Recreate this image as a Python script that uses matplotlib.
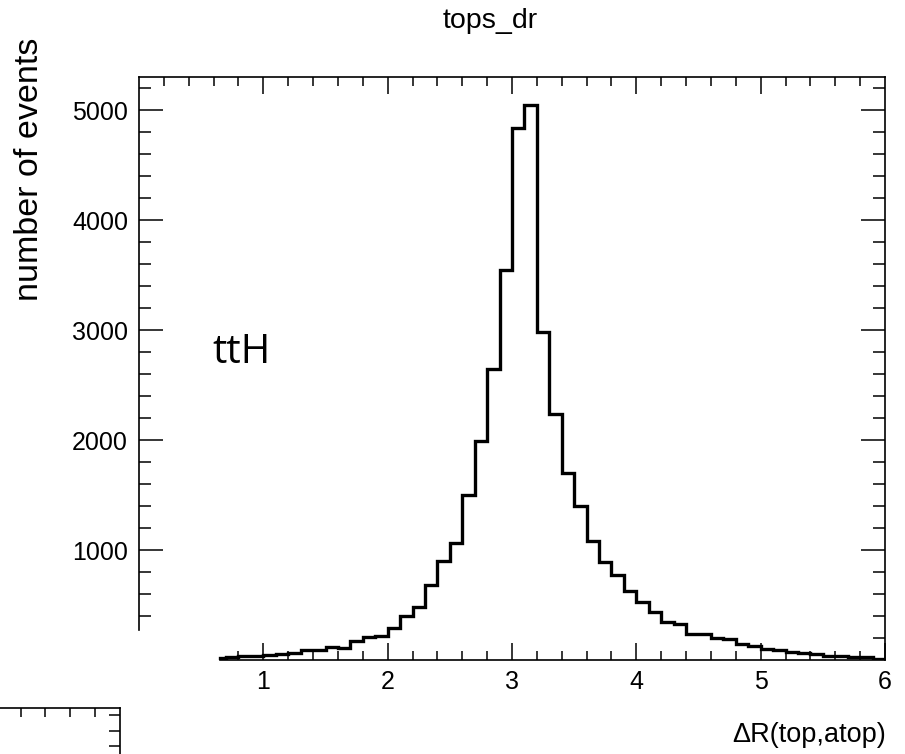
import numpy as np
import matplotlib
matplotlib.use("Agg")
import matplotlib.pyplot as plt

# histogram of Delta R(top, atop), bin width 0.1 (first bin partial)
bin_edges = [0.65] + list(np.round(np.arange(0.7, 6.05, 0.1), 2))
counts = [15,
          24, 36, 38, 50, 52, 60, 88, 92, 115, 105,
          172, 206, 222, 294, 398, 485, 682, 900, 1067, 1500,
          1991, 2645, 3545, 4840, 5045, 2985, 2240, 1697, 1400, 1082,
          894, 773, 630, 530, 440, 348, 324, 236, 236, 203,
          191, 145, 127, 100, 91, 76, 61, 52, 39, 39,
          24, 24, 12]

x_major = [1, 2, 3, 4, 5, 6]
y_major = [1000, 2000, 3000, 4000, 5000]

plt.rcParams['font.family'] = ['Liberation Sans', 'DejaVu Sans']

W, H = 905, 754
fig = plt.figure(figsize=(W / 100, H / 100), dpi=100)
ax = fig.add_axes([139 / W, 94 / H, 746 / W, 583 / H])

ax.stairs(counts, bin_edges, baseline=0, color='black', linewidth=2.4)
ax.set_xlim(0, 6)
ax.set_ylim(0, 5300)

for s in ['top', 'right']:
    ax.spines[s].set_visible(False)
for s in ['left', 'bottom']:
    ax.spines[s].set_linewidth(1.2)
ax.spines['left'].set_bounds(273, 5300)
ax.spines['bottom'].set_bounds(bin_edges[0], 6)

ax.set_xticks(x_major)
ax.set_xticks(np.round(np.arange(0.8, 6.0, 0.2), 1), minor=True)
ax.set_yticks(y_major)
ax.set_yticks(np.arange(400, 5300, 200), minor=True)
ax.set_xticklabels([str(v) for v in x_major])
ax.set_yticklabels([str(v) for v in y_major])
ax.tick_params(axis='x', which='major', direction='in', length=12, width=1.1,
               labelsize=18, pad=7)
ax.tick_params(axis='x', which='minor', direction='in', length=6.5, width=1.1)
ax.tick_params(axis='y', which='major', direction='in', length=17, width=1.1,
               labelsize=18, pad=8)
ax.tick_params(axis='y', which='minor', direction='in', length=8.5, width=1.1)

top = ax.secondary_xaxis('top')
top.set_xticks(x_major[:-1])
top.set_xticks(np.round(np.arange(0.2, 6.0, 0.2), 1), minor=True)
top.tick_params(which='major', direction='in', length=12, width=1.1, labeltop=False)
top.tick_params(which='minor', direction='in', length=6.5, width=1.1)
top.spines['top'].set_linewidth(1.2)

right = ax.secondary_yaxis('right')
right.set_yticks(y_major)
right.set_yticks(np.arange(200, 5300, 200), minor=True)
right.tick_params(which='major', direction='in', length=17, width=1.1, labelright=False)
right.tick_params(which='minor', direction='in', length=8.5, width=1.1)
right.spines['right'].set_linewidth(1.2)

# stray frame corner in the lower left
corner = fig.add_axes([(120 - 746) / W, (754 - 708 - 583) / H, 746 / W, 583 / H])
corner.set_xlim(0, 6)
corner.set_ylim(0, 583)
corner.patch.set_visible(False)
for s in ['bottom', 'left']:
    corner.spines[s].set_visible(False)
for s in ['top', 'right']:
    corner.spines[s].set_linewidth(1.2)
corner.xaxis.tick_top()
corner.yaxis.tick_right()
corner.set_xticks([])
corner.set_xticks(np.round(np.arange(5.2, 6.0, 0.2), 1), minor=True)
corner.set_yticks([])
corner.set_yticks([576, 560, 545], minor=True)
corner.tick_params(which='minor', direction='in', length=6.5, width=1.1,
                   labeltop=False, labelright=False)
corner.tick_params(axis='y', which='minor', length=8)

fig.text(490 / W, 1 - 21 / H, 'tops_dr', ha='center', va='center', fontsize=20.5)
fig.text(30 / W, 1 - 38 / H, 'number of events', rotation=90,
         ha='center', va='top', fontsize=24.5)
fig.text(886 / W, 1 - 735 / H, 'ΔR(top,atop)', ha='right', va='center', fontsize=19.5)
fig.text(212 / W, 1 - 363 / H, 'ttH', ha='left', va='baseline',
         fontsize=29, family=['Open Sans', 'DejaVu Sans'])

fig.savefig('out.png', dpi=100)
